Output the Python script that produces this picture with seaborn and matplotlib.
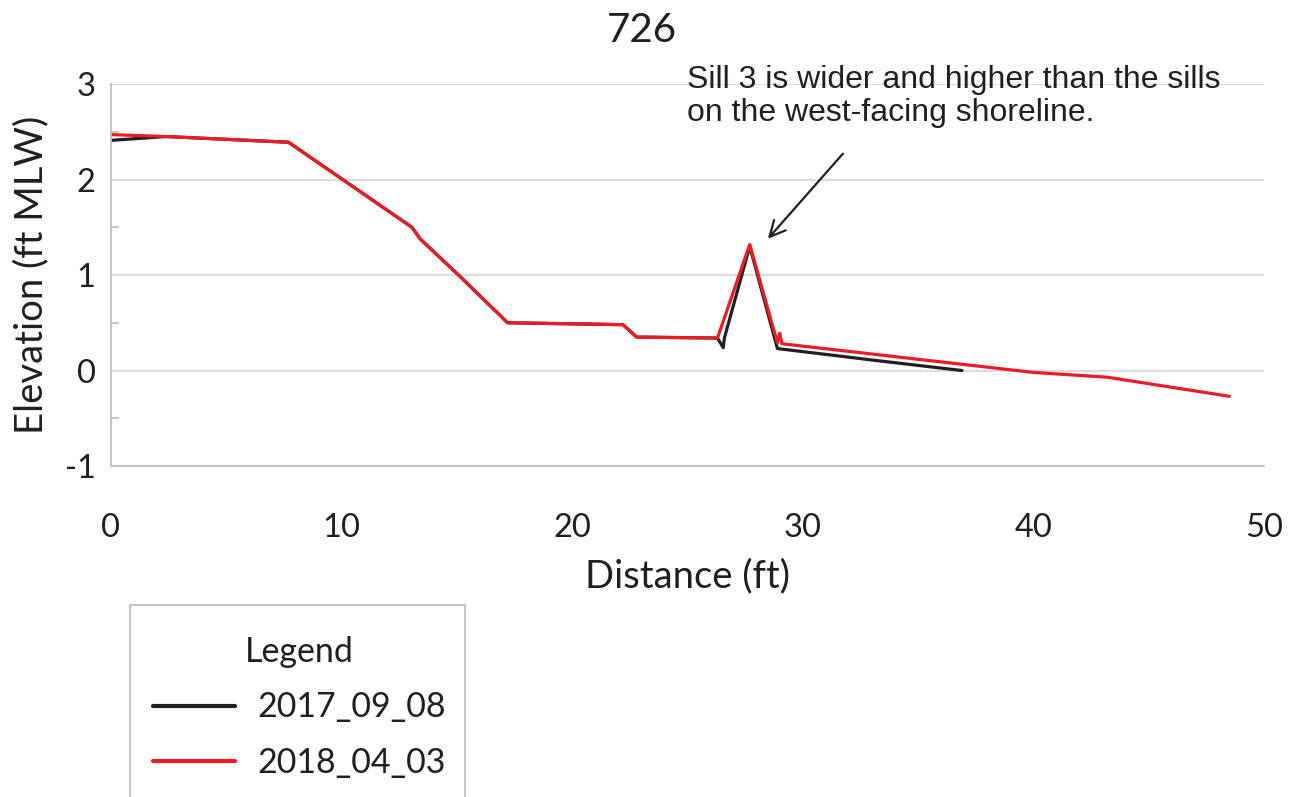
import numpy as np
import pandas as pd
import seaborn as sns
import matplotlib.pyplot as plt
from matplotlib.patches import Rectangle
from matplotlib.ticker import MultipleLocator

# ── survey profiles (distance ft, elevation ft MLW) ─────────────────────────
dist_2017 = [0.0, 2.4, 7.7, 13.05, 13.4, 15.2, 17.2, 22.2, 22.8, 26.3, 26.55,
             26.6, 27.7, 28.9, 33.0, 36.9]
elev_2017 = [2.41, 2.45, 2.39, 1.50, 1.38, 0.97, 0.50, 0.48, 0.35, 0.34, 0.24,
             0.34, 1.30, 0.23, 0.11, 0.00]

dist_2018 = [0.0, 2.4, 7.7, 13.05, 13.4, 15.2, 17.2, 22.2, 22.8, 26.3, 27.7,
             28.9, 29.0, 29.1, 40.0, 43.2, 48.5]
elev_2018 = [2.47, 2.45, 2.39, 1.50, 1.38, 0.97, 0.50, 0.48, 0.35, 0.34, 1.32,
             0.29, 0.39, 0.28, -0.02, -0.07, -0.27]

surveys = ["2017_09_08", "2018_04_03"]
colors = ["#231F20", "#ED1C24"]

x_ticks = [0, 10, 20, 30, 40, 50]
y_ticks = [-1, 0, 1, 2, 3]

note = "Sill 3 is wider and higher than the sills\non the west-facing shoreline."

df = pd.concat([
    pd.DataFrame({"Distance": dist_2017, "Elevation": elev_2017, "Survey": surveys[0]}),
    pd.DataFrame({"Distance": dist_2018, "Elevation": elev_2018, "Survey": surveys[1]}),
], ignore_index=True)

sns.set_style("white")
plt.rcParams["font.family"] = ["Lato", "DejaVu Sans"]
plt.rcParams["axes.unicode_minus"] = False

fig = plt.figure(figsize=(12.92, 7.97), dpi=100)
ax = fig.add_axes([0.0859, 0.4153, 0.8924, 0.4793])

sns.lineplot(data=df, x="Distance", y="Elevation", hue="Survey",
             hue_order=surveys, palette=colors, estimator=None, sort=False,
             linewidth=2.3, ax=ax, legend=True)

ax.set_xlim(0, 50)
ax.set_ylim(-1, 3)
ax.set_xticks(x_ticks)
ax.set_yticks(y_ticks)
ax.yaxis.set_minor_locator(MultipleLocator(0.5))
ax.grid(axis="y", which="major", color="#D9D9D9", linewidth=1.3)
ax.set_axisbelow(True)

grey = "#BFBFBF"
for side in ["top", "right"]:
    ax.spines[side].set_visible(False)
for side in ["left", "bottom"]:
    ax.spines[side].set_color(grey)
    ax.spines[side].set_linewidth(1.3)

ax.tick_params(axis="x", which="major", direction="out", length=13.5,
               width=1.3, color=grey, labelsize=23.5, pad=20, labelcolor="#231F20")
ax.tick_params(axis="y", which="major", length=0, labelsize=23.5, pad=11,
               labelcolor="#231F20")
ax.tick_params(axis="y", which="minor", direction="in", length=6,
               width=1.3, color=grey, left=True)

ax.set_xlabel("Distance (ft)", fontsize=27.5, color="#231F20", labelpad=11)
ax.set_ylabel("Elevation (ft MLW)", fontsize=27.5, color="#231F20", labelpad=11)
fig.text(0.497, 0.962, "726", fontsize=29, ha="center", va="center",
         color="#231F20")

# annotation for sill 3: note text plus a separate arrow
ax.text(25.0, 3.2, note, fontsize=23, family="Liberation Sans",
        color="#231F20", ha="left", va="top", linespacing=1.15, clip_on=False)
ax.annotate("", xy=(28.49, 1.38), xytext=(31.74, 2.27),
            arrowprops=dict(arrowstyle="->", color="#231F20", lw=1.6,
                            mutation_scale=28, shrinkA=0, shrinkB=0))

# legend with box running off the bottom edge
h, l = ax.get_legend_handles_labels()
ax.legend_.remove()
fig.patches.append(Rectangle((130 / 1292, -0.05), 335 / 1292, 0.05 + (797 - 605) / 797,
                             transform=fig.transFigure, fill=False,
                             edgecolor=grey, linewidth=1.3))
leg = fig.legend(h, l, title="Legend", loc="upper left",
                 bbox_to_anchor=(139.5 / 1292, 1 - 622 / 797), frameon=False,
                 borderaxespad=0, fontsize=24.5, title_fontsize=24.5,
                 handlelength=2.4, handletextpad=0.65, labelspacing=0.7)
for line in leg.get_lines():
    line.set_linewidth(3)
leg.get_title().set_color("#231F20")
for t in leg.get_texts():
    t.set_color("#231F20")

fig.savefig("out.png", dpi=100)
